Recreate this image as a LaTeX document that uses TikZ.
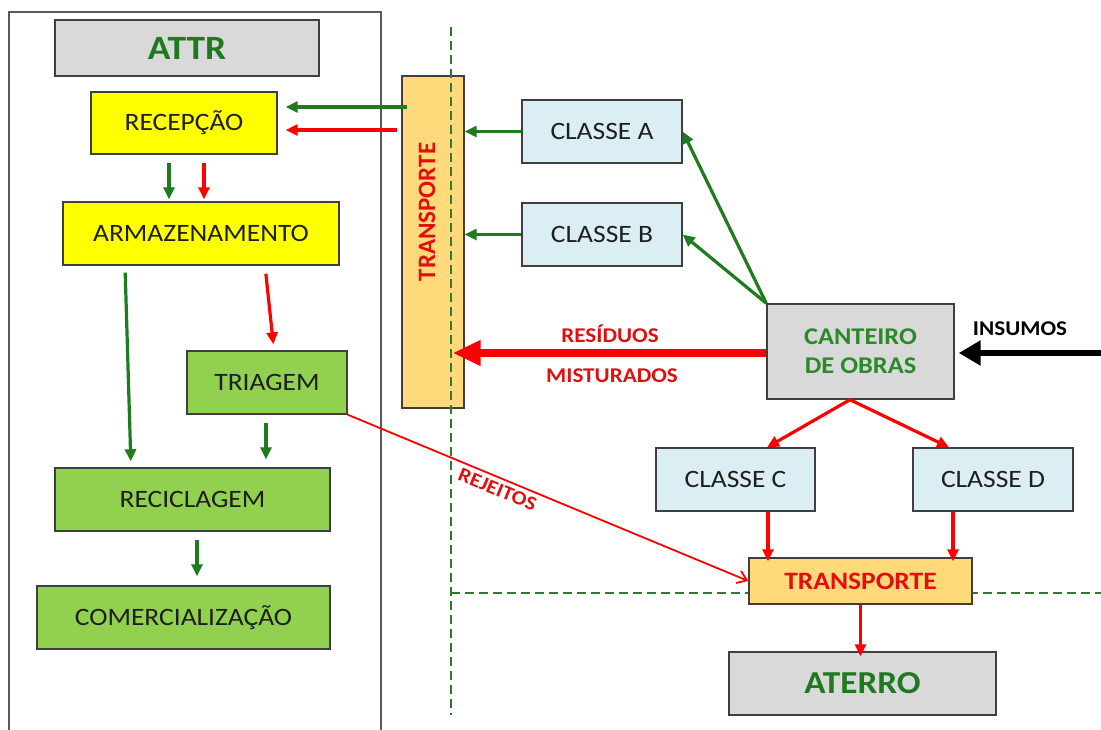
\documentclass[tikz,border=0pt]{standalone}
\usepackage{fontspec}
\setmainfont{Carlito}[FakeStretch=1.1]
\newfontfamily\plainfont{Carlito}
\usetikzlibrary{arrows.meta}

\definecolor{boxline}{HTML}{3F3F3F}
\definecolor{framegray}{HTML}{5A5A5A}
\definecolor{panelgray}{HTML}{D9D9D9}
\definecolor{yel}{HTML}{FFFF00}
\definecolor{leaf}{HTML}{92D050}
\definecolor{sky}{HTML}{DBEEF4}
\definecolor{sand}{HTML}{FFD97A}
\definecolor{flowgreen}{HTML}{1E7B1E}
\definecolor{titlegreen}{HTML}{1F7A1F}
\definecolor{sitegreen}{HTML}{2A8A2A}
\definecolor{flowred}{HTML}{FF0000}
\definecolor{labelred}{HTML}{E01010}
\definecolor{dashgreen}{HTML}{2F7A2F}

\tikzset{
  box/.style={draw=boxline, line width=1.4pt, inner sep=0pt,
    font=\fontsize{25}{28}\selectfont, text=black!88},
  garrow/.style={draw=flowgreen, line width=3.2pt, -{Triangle[length=12pt,width=11pt]}},
  rarrow/.style={draw=flowred, line width=3.2pt, -{Triangle[length=12pt,width=11pt]}},
  redlabel/.style={font=\bfseries\fontsize{21}{24}\selectfont, text=labelred, inner sep=0pt},
  divider/.style={draw=dashgreen, line width=1.2pt, dash pattern=on 9pt off 5pt},
}

\begin{document}
\begin{tikzpicture}[x=1pt, y=-1pt]
\useasboundingbox (0,0) rectangle (1101,729);
\clip (0,0) rectangle (1101,729);
\fill[white] (0,0) rectangle (1101,729);

% horizontal divider (runs behind the lower transport box)
\draw[divider] (451,593) -- (1110,593);

% ATTR frame, open at the bottom
\draw[framegray, line width=2pt] (9,760) |- (381,12) -- (381,760);

% ATTR side
\node[box, fill=panelgray, minimum width=264pt, minimum height=56pt,
      font=\bfseries\fontsize{34}{36}\selectfont, text=titlegreen] (attr) at (187,48) {ATTR};
\node[box, fill=yel, minimum width=186pt, minimum height=62pt] (recep) at (184,123) {RECEPÇÃO};
\node[box, fill=yel, minimum width=276pt, minimum height=63pt] (armaz) at (201,233.5) {ARMAZENAMENTO};
\node[box, fill=leaf, minimum width=160pt, minimum height=63pt] (triag) at (267,382.5) {TRIAGEM};
\node[box, fill=leaf, minimum width=275pt, minimum height=63pt] (recic) at (192.5,499.5) {RECICLAGEM};
\node[box, fill=leaf, minimum width=293pt, minimum height=63pt] (comer) at (183.5,617.5) {COMERCIALIZAÇÃO};

% vertical transport bar
\node[box, fill=sand, minimum width=62pt, minimum height=332pt] (transV) at (433,242) {};
\node[rotate=90, font=\plainfont\bfseries\fontsize{25}{28}\selectfont, text=labelred,
      inner sep=0pt] (transVtext) at (427,212) {TRANSPORTE};

% construction site side
\node[box, fill=sky, minimum width=160pt, minimum height=63pt] (classA) at (602,131.5) {CLASSE A};
\node[box, fill=sky, minimum width=160pt, minimum height=63pt] (classB) at (602,234.5) {CLASSE B};
\node[box, fill=panelgray, minimum width=187pt, minimum height=95pt, align=center,
      font=\bfseries\fontsize{24}{29}\selectfont, text=sitegreen] (cant) at (860.5,351.5) {CANTEIRO\\DE OBRAS};
\node[box, fill=sky, minimum width=159pt, minimum height=63pt] (classC) at (735.5,479.5) {CLASSE C};
\node[box, fill=sky, minimum width=160pt, minimum height=63pt] (classD) at (993,479.5) {CLASSE D};
\node[box, fill=sand, minimum width=223pt, minimum height=46pt,
      font=\bfseries\fontsize{25}{28}\selectfont, text=labelred] (transH) at (860.5,581) {TRANSPORTE};
\node[box, fill=panelgray, minimum width=267pt, minimum height=63pt,
      font=\bfseries\fontsize{32}{36}\selectfont, text=titlegreen] (aterro) at (862.5,683.5) {ATERRO};

% flows inside ATTR
\draw[garrow, shorten <=-6pt, shorten >=8pt] (transV.west |- 0,107) -- (recep.east |- 0,107);
\draw[rarrow, shorten <=4pt, shorten >=8pt] (transV.west |- 0,130) -- (recep.east |- 0,130);
\draw[garrow, shorten <=8pt, shorten >=2pt] (169,0 |- recep.south) -- (169,0 |- armaz.north);
\draw[rarrow, shorten <=8pt, shorten >=2pt] (204,0 |- recep.south) -- (204,0 |- armaz.north);
\draw[garrow, shorten <=7pt, shorten >=6pt] (125,0 |- armaz.south) -- (131,0 |- recic.north);
\draw[rarrow, shorten <=8pt, shorten >=6pt] (265,0 |- armaz.south) -- (274,0 |- triag.north);
\draw[garrow, shorten <=8pt, shorten >=8pt] (266,0 |- triag.south) -- (266,0 |- recic.north);
\draw[garrow, shorten <=8pt, shorten >=9pt] (197,0 |- recic.south) -- (197,0 |- comer.north);

% classes A and B to transport
\draw[garrow] (classA.west) -- (transV.east |- classA.west);
\draw[garrow] (classB.west) -- (transV.east |- classB.west);
\draw[garrow] (cant.north west) -- (classA.east);
\draw[garrow] (cant.north west) -- (classB.east);

% mixed waste
\draw[flowred, line width=8pt, -{Triangle[length=28pt,width=24pt]}, shorten >=-12pt]
  (cant.west |- 0,353) -- (transV.east |- 0,353);
\node[redlabel] (res1) at (610,334) {RESÍDUOS};
\node[redlabel] (res2) at (612,376) {MISTURADOS};

% inputs
\coordinate (insumosIn) at (1115,353);
\draw[black, line width=6pt, -{Triangle[length=22pt,width=24pt]}, shorten >=4pt]
  (insumosIn) -- (cant.east |- insumosIn);
\node[font=\bfseries\fontsize{21}{24}\selectfont, inner sep=0pt] (insumos) at (1020,329) {INSUMOS};

% classes C and D to landfill
\draw[rarrow] (850,0 |- cant.south) -- (767,0 |- classC.north);
\draw[rarrow] (850,0 |- cant.south) -- (949,0 |- classD.north);
\draw[rarrow, shorten >=-4pt] (768,0 |- classC.south) -- (768,0 |- transH.north);
\draw[rarrow, shorten >=-4pt] (953,0 |- classD.south) -- (953,0 |- transH.north);
\draw[rarrow, shorten >=-5pt] (transH.south) -- (transH.south |- aterro.north);

% rejects from sorting
\draw[flowred, line width=1.8pt, -{Straight Barb[length=9pt,width=13pt]}]
  (triag.south east) -- node[sloped, below, pos=0.385, inner sep=4pt,
  font=\bfseries\fontsize{20}{24}\selectfont, text=labelred] (rejeitos) {REJEITOS} (transH.west);

% vertical divider
\draw[divider] (451,27) -- (451,715);
\end{tikzpicture}
\end{document}
